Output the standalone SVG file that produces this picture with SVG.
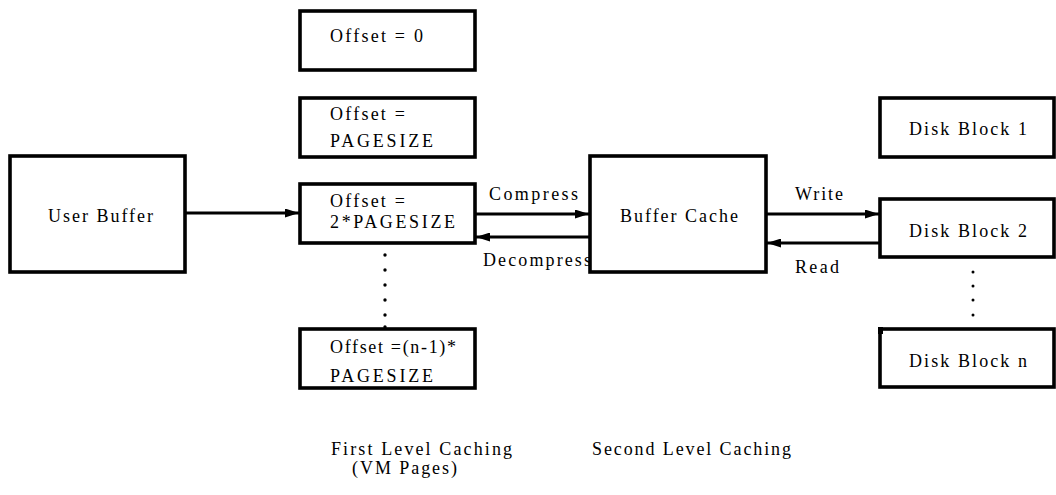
<svg xmlns="http://www.w3.org/2000/svg" width="1056" height="495" viewBox="0 0 1056 495">
<style>
.box{fill:#fff;stroke:#000;stroke-width:3.6}
.t{font-family:'Liberation Serif','DejaVu Serif','Times New Roman',serif;font-size:18px;fill:#000}
.ln{stroke:#000;stroke-width:3;fill:none}
.dot{fill:#000}
</style>
<defs>
<marker id="ah" viewBox="0 0 14 9" refX="14" refY="4.5" markerWidth="14" markerHeight="9" markerUnits="userSpaceOnUse" orient="auto">
<path d="M0,0 L14,4.5 L0,9 z" fill="#000"/>
</marker>
</defs>
<rect width="1056" height="495" fill="#fff"/>
<g id="user-buffer">
<rect class="box" x="10" y="156" width="175" height="116"/>
<text class="t" x="48" y="222" textLength="105" lengthAdjust="spacing">User Buffer</text>
</g>
<g id="page0">
<rect class="box" x="300" y="11" width="175" height="59"/>
<text class="t" x="330" y="42" textLength="93" lengthAdjust="spacing">Offset = 0</text>
</g>
<g id="page1">
<rect class="box" x="300" y="98" width="175" height="59"/>
<text class="t" x="330" y="120" textLength="75" lengthAdjust="spacing">Offset =</text>
<text class="t" x="330" y="147" textLength="103" lengthAdjust="spacing">PAGESIZE</text>
</g>
<g id="page2">
<rect class="box" x="300" y="184" width="175" height="59"/>
<text class="t" x="330" y="207" textLength="75" lengthAdjust="spacing">Offset =</text>
<text class="t" x="330" y="228" textLength="125" lengthAdjust="spacing">2*PAGESIZE</text>
</g>
<g id="pagen">
<rect class="box" x="300" y="329" width="175" height="59"/>
<text class="t" x="330" y="353" textLength="126" lengthAdjust="spacing">Offset =(n-1)*</text>
<text class="t" x="330" y="382" textLength="103" lengthAdjust="spacing">PAGESIZE</text>
</g>
<g id="buffer-cache">
<rect class="box" x="590" y="156" width="176" height="116"/>
<text class="t" x="620" y="222" textLength="118" lengthAdjust="spacing">Buffer Cache</text>
</g>
<g id="disk1">
<rect class="box" x="880" y="98" width="174" height="59"/>
<text class="t" x="909" y="135" textLength="118" lengthAdjust="spacing">Disk Block 1</text>
</g>
<g id="disk2">
<rect class="box" x="880" y="199" width="174" height="58"/>
<text class="t" x="909" y="237" textLength="118" lengthAdjust="spacing">Disk Block 2</text>
</g>
<g id="diskn">
<rect class="box" x="880" y="329" width="174" height="58"/>
<rect x="878" y="327" width="5" height="7" fill="#000"/>
<text class="t" x="909" y="367" textLength="118" lengthAdjust="spacing">Disk Block n</text>
</g>
<g id="connectors">
<line class="ln" x1="186" y1="213" x2="299" y2="213" marker-end="url(#ah)"/>
<line class="ln" x1="476" y1="214" x2="589" y2="214" marker-end="url(#ah)"/>
<line class="ln" x1="589" y1="237" x2="476" y2="237" marker-end="url(#ah)"/>
<line class="ln" x1="767" y1="214" x2="879" y2="214" marker-end="url(#ah)"/>
<line class="ln" x1="879" y1="243" x2="767" y2="243" marker-end="url(#ah)"/>
<text class="t" x="489" y="200" textLength="89" lengthAdjust="spacing">Compress</text>
<text class="t" x="483" y="266" textLength="108" lengthAdjust="spacing">Decompress</text>
<text class="t" x="795" y="200" textLength="48" lengthAdjust="spacing">Write</text>
<text class="t" x="795" y="273" textLength="44" lengthAdjust="spacing">Read</text>
<circle class="dot" cx="385" cy="255" r="1.7"/>
<circle class="dot" cx="385" cy="270" r="1.7"/>
<circle class="dot" cx="385" cy="285" r="1.7"/>
<circle class="dot" cx="385" cy="300" r="1.7"/>
<circle class="dot" cx="385" cy="315" r="1.7"/>
<circle class="dot" cx="385" cy="327" r="1.7"/>
<circle class="dot" cx="973" cy="272" r="1.5"/>
<circle class="dot" cx="973" cy="286" r="1.5"/>
<circle class="dot" cx="973" cy="300" r="1.5"/>
<circle class="dot" cx="973" cy="315" r="1.5"/>
</g>
<g id="labels">
<text class="t" x="331" y="455" textLength="181" lengthAdjust="spacing">First Level Caching</text>
<text class="t" x="352" y="474" textLength="105" lengthAdjust="spacing">(VM Pages)</text>
<text class="t" x="592" y="455" textLength="199" lengthAdjust="spacing">Second Level Caching</text>
</g>
</svg>
